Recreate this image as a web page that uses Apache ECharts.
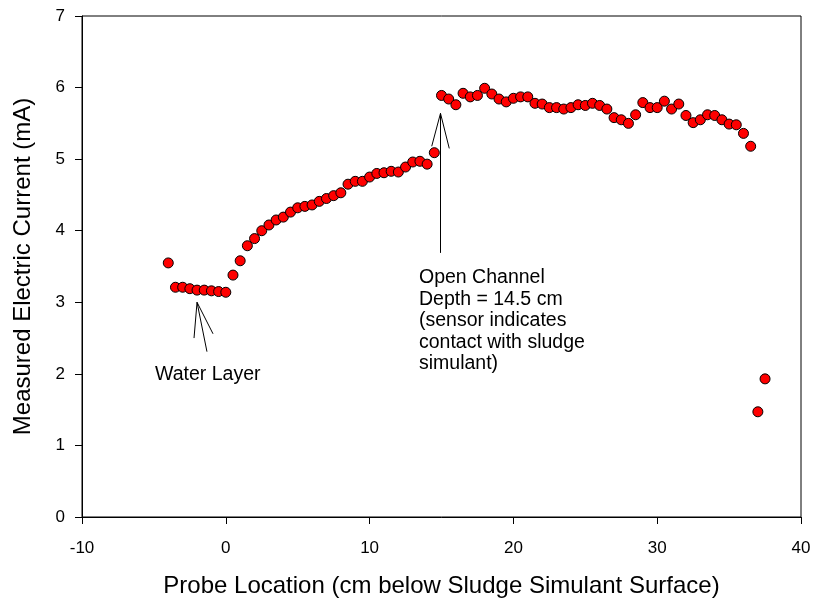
<!DOCTYPE html>
<html>
<head>
<meta charset="utf-8">
<script src="https://cdn.jsdelivr.net/npm/echarts@6/dist/echarts.min.js"></script>
<style>
html,body{margin:0;padding:0;background:#fff;}
#chart{width:814px;height:603px;}
</style>
</head>
<body>
<div id="chart"></div>
<script>
// Probe location (cm below sludge simulant surface)
var probeLocation = [
  -4, -3.5, -3, -2.5, -2, -1.5, -1, -0.5, 0,
  0.5, 1, 1.5, 2, 2.5, 3, 3.5, 4, 4.5, 5, 5.5, 6, 6.5, 7, 7.5, 8, 8.5, 9, 9.5,
  10, 10.5, 11, 11.5, 12, 12.5, 13, 13.5, 14, 14.5,
  15, 15.5, 16, 16.5, 17, 17.5, 18, 18.5, 19, 19.5,
  20, 20.5, 21, 21.5, 22, 22.5, 23, 23.5, 24, 24.5,
  25, 25.5, 26, 26.5, 27, 27.5, 28, 28.5, 29, 29.5,
  30, 30.5, 31, 31.5, 32, 32.5, 33, 33.5, 34, 34.5,
  35, 35.5, 36, 36.5, 37, 37.5
];
// Measured electric current (mA)
var current = [
  3.55, 3.21, 3.21, 3.19, 3.17, 3.17, 3.16, 3.15, 3.14,
  3.38, 3.58, 3.79, 3.89, 4.00, 4.08, 4.15, 4.19, 4.26, 4.32, 4.34, 4.36, 4.41, 4.45, 4.49, 4.53, 4.65, 4.69, 4.69,
  4.75, 4.80, 4.81, 4.83, 4.82, 4.89, 4.96, 4.97, 4.93, 5.09,
  5.89, 5.84, 5.76, 5.92, 5.87, 5.89, 5.99, 5.91, 5.84, 5.80,
  5.85, 5.87, 5.87, 5.78, 5.77, 5.72, 5.72, 5.70, 5.72, 5.76,
  5.75, 5.78, 5.75, 5.70, 5.58, 5.55, 5.50, 5.62, 5.79, 5.72,
  5.72, 5.81, 5.70, 5.77, 5.61, 5.51, 5.55, 5.62, 5.61, 5.55,
  5.49, 5.48, 5.36, 5.18, 1.47, 1.93
];
var xTicks = [-10, 0, 10, 20, 30, 40];
var yTicks = [0, 1, 2, 3, 4, 5, 6, 7];

// annotation arrows (data coordinates): apex, then the ends of each stroke
var waterArrow = { apex: [-2.0, 3.0], ends: [[-2.21, 2.50], [-1.31, 2.31], [-0.89, 2.56]] };
var channelArrow = { apex: [14.93, 5.64], ends: [[14.93, 3.69], [14.32, 5.18], [15.54, 5.15]] };
var waterText = 'Water Layer';
var channelText = 'Open Channel\nDepth = 14.5 cm\n(sensor indicates\ncontact with sludge\nsimulant)';

var FONT = '"Liberation Sans", Arial, sans-serif';
var points = probeLocation.map(function (x, i) { return [x, current[i]]; });

function arrowLines(a) {
  return a.ends.map(function (e) {
    return [{ coord: a.apex }, { coord: e }];
  });
}

var chart = echarts.init(document.getElementById('chart'), null, { renderer: 'canvas' });
chart.setOption({
  animation: false,
  backgroundColor: '#fff',
  textStyle: { fontFamily: FONT },
  grid: { left: 82, right: 13, top: 16, bottom: 86, show: true, borderColor: '#000', borderWidth: 1, backgroundColor: 'transparent' },
  xAxis: {
    type: 'value', min: xTicks[0], max: xTicks[xTicks.length - 1], interval: 10,
    name: 'Probe Location (cm below Sludge Simulant Surface)',
    nameLocation: 'middle', nameGap: 57,
    nameTextStyle: { fontSize: 24, color: '#000', fontFamily: FONT },
    axisLine: { show: true, onZero: false, lineStyle: { color: '#000', width: 1 } },
    axisTick: { show: true, inside: false, length: 7, lineStyle: { color: '#000' } },
    axisLabel: { fontSize: 17, color: '#000', margin: 23, fontFamily: FONT },
    splitLine: { show: false }
  },
  yAxis: {
    type: 'value', min: yTicks[0], max: yTicks[yTicks.length - 1], interval: 1,
    name: 'Measured Electric Current (mA)',
    nameLocation: 'middle', nameGap: 47,
    nameTextStyle: { fontSize: 24, color: '#000', fontFamily: FONT },
    axisLine: { show: true, onZero: false, lineStyle: { color: '#000', width: 1 } },
    axisTick: { show: true, inside: false, length: 7, lineStyle: { color: '#000' } },
    axisLabel: { fontSize: 17, color: '#000', margin: 17, fontFamily: FONT },
    splitLine: { show: false }
  },
  series: [{
    type: 'scatter',
    data: points,
    symbol: 'circle',
    symbolSize: 10,
    itemStyle: { color: '#ff0000', borderColor: '#000', borderWidth: 1, opacity: 1 },
    z: 5,
    markLine: {
      silent: true,
      symbol: ['none', 'none'],
      label: { show: false },
      lineStyle: { color: '#000', width: 1, type: 'solid' },
      emphasis: { disabled: true },
      data: arrowLines(waterArrow).concat(arrowLines(channelArrow))
    }
  }],
  graphic: [
    { type: 'text', left: 155, top: 365, style: { text: waterText, font: '19.5px ' + FONT, fill: '#000' } },
    { type: 'text', left: 419, top: 267, style: { text: channelText, font: '19.5px ' + FONT, fill: '#000', lineHeight: 21.5 } }
  ]
});
</script>
</body>
</html>
